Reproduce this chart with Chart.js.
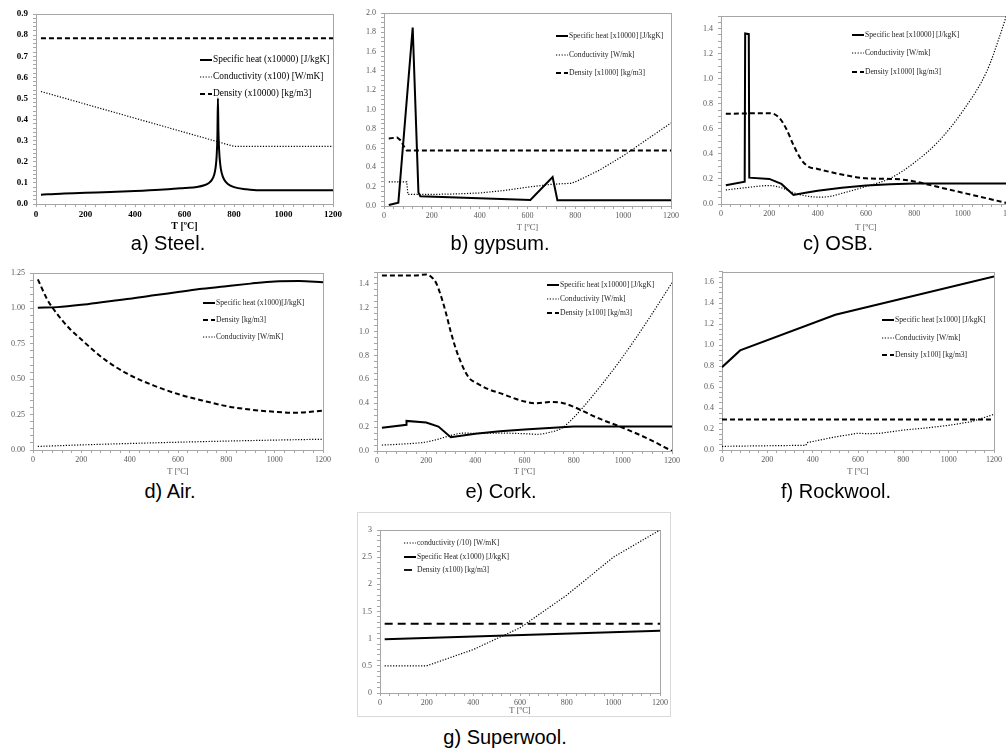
<!DOCTYPE html>
<html>
<head>
<meta charset="utf-8">
<script src="https://cdn.jsdelivr.net/npm/chart.js@4.4.1/dist/chart.umd.min.js"></script>
<style>
  body { margin: 0; width: 1006px; height: 751px; overflow: hidden; position: relative; background: #fff; }
  canvas { position: absolute; }
  .cap { position: absolute; font: 20px "Liberation Sans", Arial, sans-serif; color: #000; transform: translate(-50%, -50%); white-space: nowrap; }
  .frame { position: absolute; border: 1px solid #d9d9d9; }
</style>
</head>
<body>
<div class="frame" style="left:357px;top:512px;width:312px;height:203px"></div>
<script>
// ---- data (T in °C) ----

// a) Steel
const steelLegend = ["Specific heat (x10000) [J/kgK]", "Conductivity (x100) [W/mK]", "Density (x10000) [kg/m3]"];
const steelCpT = [20, 100, 200, 300, 400, 500, 600, 650, 680, 700, 710, 720, 725, 730, 733, 735, 737, 740, 745, 750, 760, 775, 800, 850, 900, 1200];
const steelCp = [0.044, 0.049, 0.053, 0.0565, 0.061, 0.067, 0.076, 0.081, 0.089, 0.101, 0.113, 0.139, 0.167, 0.229, 0.327, 0.5, 0.351, 0.252, 0.182, 0.148, 0.116, 0.095, 0.08, 0.07, 0.065, 0.065];
const steelKT = [20, 800, 1200];
const steelK = [0.533, 0.273, 0.273];
const steelRhoT = [20, 1200];
const steelRho = [0.785, 0.785];

// b) gypsum
const gypLegend = ["Specific heat [x10000] [J/kgK]", "Conductivity [W/mk]", "Density [x1000] [kg/m3]"];
const gypCpT = [20, 60, 120, 144, 152, 612, 705, 725, 1200];
const gypCp = [0.01, 0.035, 1.85, 0.14, 0.1, 0.062, 0.3, 0.06, 0.06];
const gypKT = [20, 95, 100, 200, 300, 400, 500, 600, 700, 780, 800, 900, 1000, 1100, 1200];
const gypK = [0.25, 0.25, 0.12, 0.12, 0.125, 0.135, 0.16, 0.195, 0.225, 0.235, 0.25, 0.37, 0.52, 0.69, 0.86];
const gypRhoT = [20, 55, 70, 85, 95, 1200];
const gypRho = [0.7, 0.71, 0.68, 0.61, 0.575, 0.575];

// c) OSB
const osbLegend = ["Specific heat [x10000] [J/kgK]", "Conductivity [W/mk]", "Density [x1000] [kg/m3]"];
const osbCpT = [20, 98, 100, 115, 117, 200, 250, 300, 350, 400, 500, 600, 700, 800, 1200];
const osbCp = [0.15, 0.178, 1.36, 1.355, 0.21, 0.2, 0.16, 0.072, 0.09, 0.105, 0.13, 0.148, 0.158, 0.163, 0.163];
const osbKT = [20, 100, 200, 250, 300, 350, 400, 450, 500, 600, 700, 800, 900, 1000, 1100, 1150, 1200];
const osbK = [0.112, 0.13, 0.147, 0.13, 0.09, 0.065, 0.055, 0.06, 0.085, 0.14, 0.205, 0.33, 0.5, 0.74, 1.06, 1.32, 1.62];
const osbRhoT = [20, 200, 240, 270, 300, 330, 360, 400, 500, 600, 700, 750, 800, 900, 1000, 1100, 1200];
const osbRho = [0.72, 0.725, 0.69, 0.6, 0.47, 0.36, 0.3, 0.28, 0.235, 0.205, 0.2, 0.195, 0.18, 0.135, 0.09, 0.045, 0];

// d) Air
const airLegend = ["Specific heat (x1000)[J/kgK]", "Density [kg/m3]", "Conductivity [W/mK]"];
const airCpT = [20, 100, 200, 300, 400, 500, 600, 700, 800, 900, 1000, 1100, 1200];
const airCp = [1.005, 1.009, 1.025, 1.047, 1.068, 1.093, 1.115, 1.138, 1.157, 1.175, 1.19, 1.193, 1.185];
const airRhoT = [20, 60, 100, 150, 200, 300, 400, 500, 600, 700, 800, 900, 1000, 1080, 1200];
const airRho = [1.205, 1.06, 0.96, 0.86, 0.78, 0.635, 0.53, 0.455, 0.395, 0.35, 0.31, 0.285, 0.27, 0.263, 0.278];
const airKT = [20, 200, 400, 600, 800, 1000, 1200];
const airK = [0.025, 0.036, 0.046, 0.055, 0.063, 0.07, 0.076];

// e) Cork
const corkLegend = ["Specific heat [x10000] [J/kgK]", "Conductivity [W/mk]", "Density [x100] [kg/m3]"];
const corkCpT = [20, 120, 120, 200, 250, 300, 400, 500, 600, 700, 800, 1200];
const corkCp = [0.195, 0.22, 0.252, 0.238, 0.205, 0.115, 0.145, 0.165, 0.18, 0.192, 0.205, 0.205];
const corkKT = [20, 100, 200, 250, 300, 350, 400, 500, 600, 650, 700, 750, 800, 900, 1000, 1100, 1200];
const corkK = [0.05, 0.058, 0.075, 0.1, 0.13, 0.15, 0.148, 0.15, 0.145, 0.14, 0.155, 0.19, 0.28, 0.52, 0.79, 1.09, 1.41];
const corkRhoT = [20, 150, 200, 220, 240, 260, 280, 300, 320, 340, 360, 380, 400, 450, 500, 600, 650, 700, 750, 800, 900, 1000, 1100, 1200];
const corkRho = [1.47, 1.47, 1.48, 1.46, 1.41, 1.3, 1.16, 1.0, 0.86, 0.75, 0.66, 0.6, 0.575, 0.52, 0.485, 0.415, 0.4, 0.41, 0.405, 0.37, 0.275, 0.195, 0.105, 0];

// f) Rockwool
const rockLegend = ["Specific heat [x1000] [J/kgK]", "Conductivity [W/mk]", "Density [x100] [kg/m3]"];
const rockCpT = [0, 80, 500, 1200];
const rockCp = [0.79, 0.95, 1.29, 1.655];
const rockKT = [0, 370, 375, 500, 600, 650, 700, 800, 900, 1000, 1100, 1200];
const rockK = [0.035, 0.045, 0.07, 0.125, 0.16, 0.155, 0.16, 0.19, 0.21, 0.235, 0.27, 0.34];
const rockRhoT = [0, 1200];
const rockRho = [0.29, 0.29];

// g) Superwool
const swLegend = ["conductivity (/10) [W/mK]", "Specific Heat (x1000) [J/kgK]", "Density (x100) [kg/m3]"];
const swKT = [20, 200, 400, 600, 800, 1000, 1200];
const swK = [0.5, 0.5, 0.8, 1.2, 1.8, 2.5, 3.0];
const swCpT = [20, 1200];
const swCp = [0.99, 1.145];
const swRhoT = [20, 1200];
const swRho = [1.275, 1.275];

const captions = ["a) Steel.", "b) gypsum.", "c) OSB.", "d) Air.", "e) Cork.", "f) Rockwool.", "g) Superwool."];

// ---- drawing ----
Chart.defaults.font.family = '"Liberation Serif", "Times New Roman", serif';

const LINE = {
  solid: { dash: [], width: 2 },
  dot: { dash: [1.2, 1.6], width: 1.2 },
  dash: { dash: [5, 3], width: 2 },
  longdash: { dash: [8, 5], width: 1.8 }
};

// small legend drawn inside the plot, like the Excel originals
const inLegend = {
  id: "inLegend",
  afterDatasetsDraw(chart, args, o) {
    const ctx = chart.ctx;
    ctx.save();
    ctx.font = o.font;
    ctx.fillStyle = o.color;
    ctx.textBaseline = "middle";
    chart.data.datasets.forEach((ds, i) => {
      const x = o.x - o.ox, y = o.rows[i] - o.oy;
      ctx.beginPath();
      ctx.setLineDash(ds.borderDash);
      ctx.lineWidth = ds.borderWidth;
      ctx.strokeStyle = "#000";
      ctx.moveTo(x, y);
      ctx.lineTo(x + o.len, y);
      ctx.stroke();
      ctx.setLineDash([]);
      ctx.fillText(ds.label, x + o.len + 1, y);
    });
    ctx.restore();
  }
};

const plotFrame = {
  id: "plotFrame",
  beforeDatasetsDraw(chart) {
    const a = chart.chartArea, ctx = chart.ctx;
    ctx.save();
    ctx.strokeStyle = "#a6a6a6";
    ctx.lineWidth = 1;
    ctx.strokeRect(Math.round(a.left) + 0.5, Math.round(a.top) + 0.5, Math.round(a.right - a.left), Math.round(a.bottom - a.top));
    ctx.restore();
  }
};

function onStep(v, step) {
  return Math.abs(v / step - Math.round(v / step)) < 1e-6;
}

function panel(p) {
  const [bx, by, br, bb] = p.box;      // canvas edges, page px
  const [x0, y0, x1, y1] = p.plot;     // plot area edges, page px
  const cv = document.createElement("canvas");
  cv.width = br - bx;
  cv.height = bb - by;
  cv.style.left = bx + "px";
  cv.style.top = by + "px";
  document.body.appendChild(cv);

  const tickFont = { size: p.tickSize, weight: p.bold ? "bold" : "normal" };
  new Chart(cv, {
    type: "line",
    data: {
      datasets: p.series.map(s => ({
        label: s.label,
        data: s.t.map((t, i) => ({ x: t, y: s.v[i] })),
        borderColor: "#000",
        borderWidth: LINE[s.style].width,
        borderDash: LINE[s.style].dash,
        pointRadius: 0,
        fill: false,
        cubicInterpolationMode: s.smooth ? "monotone" : "default",
        tension: 0
      }))
    },
    options: {
      responsive: false,
      animation: false,
      layout: { padding: { left: 0, top: y0 - by, right: br - x1, bottom: 0 } },
      plugins: {
        legend: { display: false },
        tooltip: { enabled: false },
        inLegend: { x: p.legend.x, rows: p.legend.rows, len: 12, ox: bx, oy: by, font: p.legend.font, color: p.legend.color }
      },
      scales: {
        x: {
          type: "linear", min: 0, max: 1200,
          afterFit: s => { s.height = bb - y1; },
          border: { color: "#a6a6a6" },
          grid: { drawOnChartArea: false, tickLength: 3, color: "#a6a6a6" },
          ticks: {
            stepSize: 40, autoSkip: false, maxRotation: 0, padding: 2,
            font: tickFont, color: p.tickColor,
            callback: v => onStep(v, 200) ? String(v) : ""
          },
          title: {
            display: true, text: "T [ºC]", color: p.tickColor,
            font: { size: p.titleSize, weight: p.bold ? "bold" : "normal" },
            padding: { top: 0, bottom: 0 }
          }
        },
        y: {
          min: 0, max: p.yMax,
          afterFit: s => { s.width = x0 - bx; },
          border: { color: "#a6a6a6" },
          grid: { drawOnChartArea: false, tickLength: 3, color: "#a6a6a6" },
          ticks: {
            stepSize: p.yMinor, autoSkip: false, padding: 5,
            font: tickFont, color: p.tickColor,
            callback: v => onStep(v, p.yStep) ? (p.yDec === null ? String(+v.toFixed(2)) : v.toFixed(p.yDec)) : ""
          }
        }
      }
    },
    plugins: [plotFrame, inLegend]
  });
}

const serifSmall = '7.6px "Liberation Serif", "Times New Roman", serif';
const grey = "#595959";

panel({
  box: [0, 0, 346, 232], plot: [36, 14, 333, 204],
  yMax: 0.9, yStep: 0.1, yMinor: 0.02, yDec: 1,
  tickSize: 9, titleSize: 10, bold: true, tickColor: "#000",
  legend: { x: 200, rows: [60, 77, 94], font: '9.4px "Liberation Serif", "Times New Roman", serif', color: "#000" },
  series: [
    { label: steelLegend[0], t: steelCpT, v: steelCp, style: "solid", smooth: true },
    { label: steelLegend[1], t: steelKT, v: steelK, style: "dot" },
    { label: steelLegend[2], t: steelRhoT, v: steelRho, style: "dash" }
  ]
});

panel({
  box: [340, 0, 684, 233], plot: [384, 13, 671, 206],
  yMax: 2.0, yStep: 0.2, yMinor: 0.05, yDec: 1,
  tickSize: 8, titleSize: 8.5, bold: false, tickColor: grey,
  legend: { x: 556, rows: [36, 55, 73], font: serifSmall, color: "#262626" },
  series: [
    { label: gypLegend[0], t: gypCpT, v: gypCp, style: "solid" },
    { label: gypLegend[1], t: gypKT, v: gypK, style: "dot" },
    { label: gypLegend[2], t: gypRhoT, v: gypRho, style: "dash" }
  ]
});

panel({
  box: [680, 0, 1022, 233], plot: [721, 16, 1011, 204],
  yMax: 1.5, yStep: 0.2, yMinor: 0.05, yDec: 1,
  tickSize: 8, titleSize: 8.5, bold: false, tickColor: grey,
  legend: { x: 852, rows: [35, 53, 72], font: serifSmall, color: "#262626" },
  series: [
    { label: osbLegend[0], t: osbCpT, v: osbCp, style: "solid" },
    { label: osbLegend[1], t: osbKT, v: osbK, style: "dot", smooth: true },
    { label: osbLegend[2], t: osbRhoT, v: osbRho, style: "dash", smooth: true }
  ]
});

panel({
  box: [0, 262, 336, 477], plot: [33, 273, 323, 450],
  yMax: 1.25, yStep: 0.25, yMinor: 0.05, yDec: 2,
  tickSize: 8, titleSize: 8.5, bold: false, tickColor: grey,
  legend: { x: 203, rows: [303, 320, 337], font: serifSmall, color: "#262626" },
  series: [
    { label: airLegend[0], t: airCpT, v: airCp, style: "solid", smooth: true },
    { label: airLegend[1], t: airRhoT, v: airRho, style: "dash", smooth: true },
    { label: airLegend[2], t: airKT, v: airK, style: "dot", smooth: true }
  ]
});

panel({
  box: [340, 262, 684, 477], plot: [377, 272, 672, 451],
  yMax: 1.5, yStep: 0.2, yMinor: 0.05, yDec: 1,
  tickSize: 8, titleSize: 8.5, bold: false, tickColor: grey,
  legend: { x: 547, rows: [285, 299, 313], font: serifSmall, color: "#262626" },
  series: [
    { label: corkLegend[0], t: corkCpT, v: corkCp, style: "solid" },
    { label: corkLegend[1], t: corkKT, v: corkK, style: "dot", smooth: true },
    { label: corkLegend[2], t: corkRhoT, v: corkRho, style: "dash", smooth: true }
  ]
});

panel({
  box: [680, 262, 1006, 477], plot: [722, 270, 994, 450],
  yMax: 1.7, yStep: 0.2, yMinor: 0.05, yDec: 1,
  tickSize: 8, titleSize: 8.5, bold: false, tickColor: grey,
  legend: { x: 882, rows: [320, 338, 355], font: serifSmall, color: "#262626" },
  series: [
    { label: rockLegend[0], t: rockCpT, v: rockCp, style: "solid" },
    { label: rockLegend[1], t: rockKT, v: rockK, style: "dot" },
    { label: rockLegend[2], t: rockRhoT, v: rockRho, style: "dash" }
  ]
});

panel({
  box: [358, 513, 672, 716], plot: [380, 530, 660, 693],
  yMax: 3, yStep: 0.5, yMinor: 0.1, yDec: null,
  tickSize: 8, titleSize: 8.5, bold: false, tickColor: grey,
  legend: { x: 404, rows: [543, 557, 570], font: serifSmall, color: "#262626" },
  series: [
    { label: swLegend[0], t: swKT, v: swK, style: "dot" },
    { label: swLegend[1], t: swCpT, v: swCp, style: "solid" },
    { label: swLegend[2], t: swRhoT, v: swRho, style: "longdash" }
  ]
});

// sub-figure captions
const capPos = [[168, 243], [500, 243], [838, 243], [170, 491], [501, 491], [836, 491], [505, 737]];
captions.forEach((c, i) => {
  const d = document.createElement("div");
  d.className = "cap";
  d.textContent = c;
  d.style.left = capPos[i][0] + "px";
  d.style.top = capPos[i][1] + "px";
  document.body.appendChild(d);
});
</script>
</body>
</html>
